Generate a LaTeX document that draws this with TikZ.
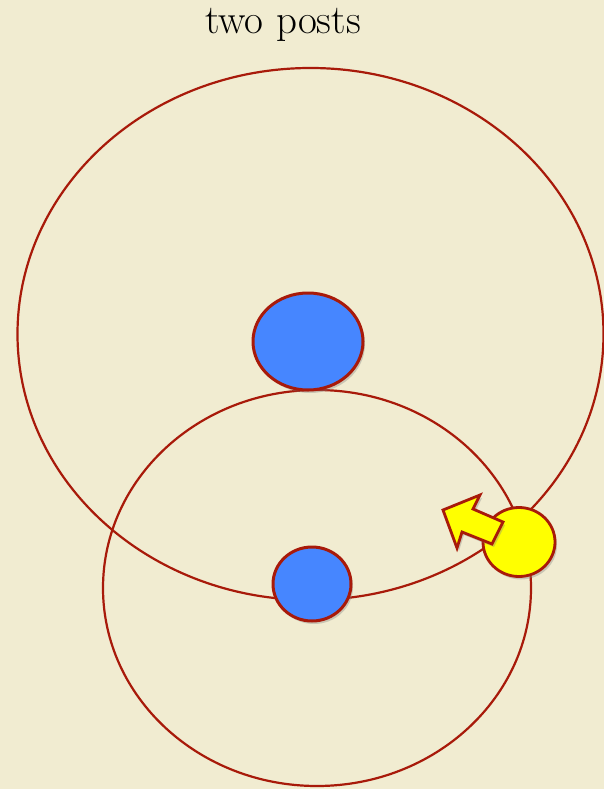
\documentclass[tikz,border=0pt]{standalone}
\usetikzlibrary{shadows}
\definecolor{parch}{RGB}{241,236,209}
\definecolor{rim}{RGB}{168,26,10}
\definecolor{post}{RGB}{70,134,255}
\definecolor{ball}{RGB}{255,255,0}
\begin{document}
\begin{tikzpicture}[x=1pt,y=-1pt,
  orbit/.style={draw=rim,line width=2.2pt},
  poststyle/.style={draw=rim,fill=post,line width=3pt,drop shadow={opacity=0.35,shadow xshift=2pt,shadow yshift=-3pt}},
  ballstyle/.style={draw=rim,fill=ball,line width=2.8pt,drop shadow={opacity=0.35,shadow xshift=2pt,shadow yshift=-3pt}},
  arrowstyle/.style={draw=rim,fill=ball,line width=2.8pt,line join=miter,drop shadow={opacity=0.35,shadow xshift=2pt,shadow yshift=-3pt}}]
\fill[parch] (0,0) rectangle (604,789);
\useasboundingbox (0,0) rectangle (604,789);
\node (title) at (283,25) {\fontsize{41}{41}\selectfont two posts};
\draw[orbit] (310.5,334) ellipse [x radius=293, y radius=266];
\draw[orbit] (317,588) ellipse [x radius=214, y radius=198];
\path[poststyle] (308,341.5) ellipse [x radius=55, y radius=48.5];
\path[poststyle] (312,584) ellipse [x radius=39, y radius=37];
\path[ballstyle] (519,542) ellipse [x radius=36, y radius=34.5];
\path[arrowstyle] (443,510) -- (480,495) -- (473,509) -- (503,522) -- (492,544) -- (462,532) -- (457,548) -- cycle;
\end{tikzpicture}
\end{document}
